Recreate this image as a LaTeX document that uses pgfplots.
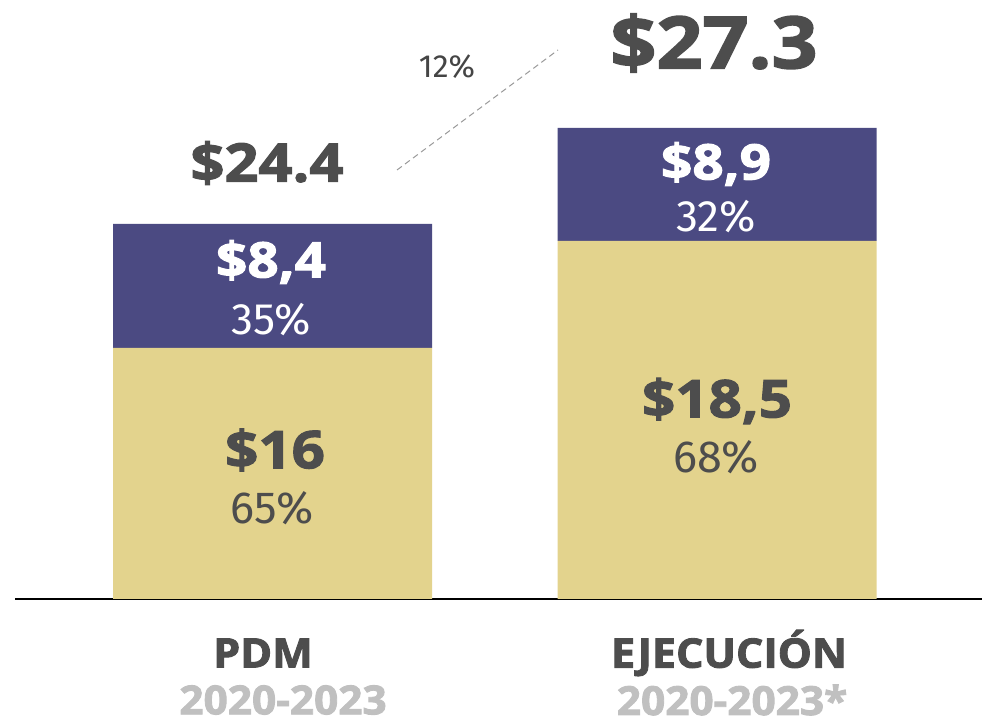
\documentclass[border=0pt]{standalone}
\usepackage{pgfplots}
\pgfplotsset{compat=1.18}
\usepackage{fontspec}
\setmainfont{Fira Sans}
\newfontfamily\numfam[BoldFeatures={FakeBold=2.2,FakeStretch=1.12}]{Open Sans}
\newfontfamily\labfam[BoldFeatures={FakeBold=2.2,FakeStretch=1.06}]{Open Sans}
\newcommand\heavy{\numfam\bfseries}
\newcommand\lab{\labfam\bfseries}
\newcommand\light{\normalfont}
\definecolor{barpurple}{HTML}{4B4A82}
\definecolor{baryellow}{HTML}{E3D38D}
\definecolor{txtdark}{HTML}{4D4D4D}
\definecolor{txtgray}{HTML}{C0C0C0}
\definecolor{baseline}{HTML}{3C4155}
\begin{document}
\begin{tikzpicture}
\path[use as bounding box] (0,0) rectangle (491pt,362pt);
\begin{axis}[
    at={(0,0)}, anchor=south west,
    width=491pt, height=362pt,
    scale only axis,
    xmin=0, xmax=982,
    ymin=-125, ymax=599,
    hide axis,
    clip=false,
    ybar stacked,
    bar width=319,
]
% bar heights as drawn (baseline = 0)
\addplot[fill=baryellow, draw=none] coordinates {(272.5,251) (717,358)};
\addplot[fill=barpurple, draw=none] coordinates {(272.5,124) (717,113)};

\draw[baseline, line width=0.75pt] (axis cs:15,0) -- (axis cs:982,0);
\draw[gray!80, line width=0.5pt, dash pattern=on 3pt off 2pt] (axis cs:397,429) -- (axis cs:558,549);

\coordinate (t273) at (axis cs:714,556);
\coordinate (p12) at (axis cs:447,532);
\coordinate (t244) at (axis cs:267,436);
\coordinate (a1) at (axis cs:271,337);
\coordinate (a2) at (axis cs:271,279);
\coordinate (b1) at (axis cs:716,435);
\coordinate (b2) at (axis cs:716,382);
\coordinate (c1) at (axis cs:275,149);
\coordinate (c2) at (axis cs:272,91);
\coordinate (d1) at (axis cs:717,198);
\coordinate (d2) at (axis cs:716,142);
\coordinate (l1) at (axis cs:263,-54);
\coordinate (y1) at (axis cs:283,-101);
\coordinate (l2) at (axis cs:729,-54);
\coordinate (y2) at (axis cs:732,-101);
\end{axis}
\begin{scope}[every node/.style={inner sep=0pt, anchor=center}]
\node[txtdark] at (t273) {\heavy\fontsize{36}{38}\selectfont \$27.3};
\node[txtdark!90!black] at (p12) {\fontsize{16}{16}\selectfont 12\%};
\node[txtdark] at (t244) {\heavy\fontsize{26.6}{28}\selectfont \$24.4};

\node[white] at (a1) {\heavy\fontsize{24.5}{26}\selectfont \$8,4};
\node[white] at (a2) {\light\fontsize{22}{22}\selectfont 35\%};
\node[white] at (b1) {\heavy\fontsize{24.5}{26}\selectfont \$8,9};
\node[white] at (b2) {\light\fontsize{22}{22}\selectfont 32\%};

\node[txtdark] at (c1) {\heavy\fontsize{26}{27}\selectfont \$16};
\node[txtdark] at (c2) {\light\fontsize{22.5}{23}\selectfont 65\%};
\node[txtdark] at (d1) {\heavy\fontsize{26}{27}\selectfont \$18,5};
\node[txtdark] at (d2) {\light\fontsize{22.5}{23}\selectfont 68\%};

\node[txtdark] at (l1) {\lab\fontsize{20.3}{21}\selectfont PDM};
\node[txtgray] at (y1) {\lab\fontsize{20}{21}\selectfont 2020-2023};
\node[txtdark] at (l2) {\lab\fontsize{20.3}{21}\selectfont EJECUCIÓN};
\node[txtgray] at (y2) {\lab\fontsize{20}{21}\selectfont 2020-2023*};
\end{scope}
\end{tikzpicture}
\end{document}
